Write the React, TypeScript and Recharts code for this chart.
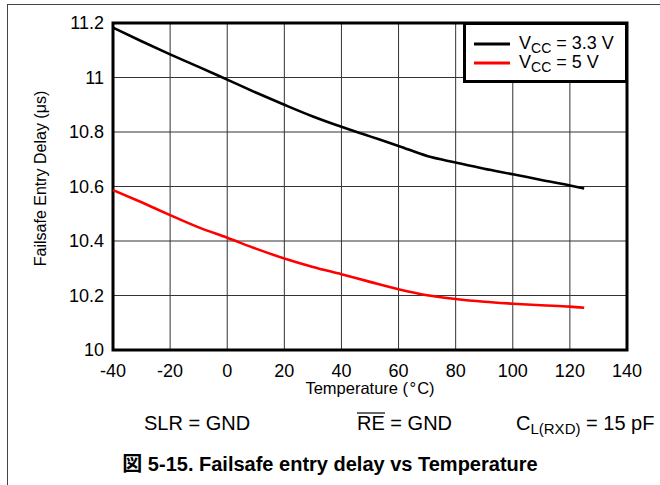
import React from 'react'
import { CartesianGrid, Legend, Line, LineChart, ReferenceArea, XAxis, YAxis } from 'recharts'

// ── Data ──

const temps = [-40, -30, -20, -10, 0, 10, 20, 30, 40, 50, 60, 70, 80, 90, 100, 110, 120, 125]
const vcc33 = [
  11.183, 11.133, 11.085, 11.039, 10.992, 10.945, 10.9, 10.857, 10.819, 10.784, 10.749, 10.712,
  10.688, 10.665, 10.645, 10.624, 10.604, 10.593,
]
const vcc5 = [
  10.587, 10.542, 10.495, 10.45, 10.412, 10.372, 10.336, 10.305, 10.278, 10.25, 10.223, 10.201,
  10.187, 10.177, 10.17, 10.164, 10.159, 10.155,
]
const xTicks = [-40, -20, 0, 20, 40, 60, 80, 100, 120, 140]
const yTicks = [10, 10.2, 10.4, 10.6, 10.8, 11, 11.2]
const seriesLabels = ['3.3 V', '5 V']
const seriesColors = ['#000000', '#ff0000']

const FONT = '"Liberation Sans", Arial, Helvetica, sans-serif'

const data = temps.map((t, i) => ({ t, v33: vcc33[i], v5: vcc5[i] }))

function LegendBox() {
  return (
    <div
      style={{
        width: 165,
        height: 61,
        boxSizing: 'border-box',
        border: '3px solid #000',
        background: '#fff',
      }}
    >
      <svg height={55} style={{ display: 'block' }} width={159}>
        {seriesLabels.map((label, i) => (
          <g key={label}>
            <line
              stroke={seriesColors[i]}
              strokeWidth={3}
              x1={8}
              x2={44}
              y1={19 + i * 19}
              y2={19 + i * 19}
            />
            <text fill="#000" fontFamily={FONT} fontSize={18} x={53} y={24 + i * 19}>
              V
              <tspan dy={4} fontSize={14}>
                CC
              </tspan>
              <tspan dy={-4}>{` = ${label}`}</tspan>
            </text>
          </g>
        ))}
      </svg>
    </div>
  )
}

function Overlay() {
  return (
    <svg
      height={485}
      style={{ position: 'absolute', left: 0, top: 0, pointerEvents: 'none' }}
      width={660}
    >
      {/* page frame */}
      <line stroke="#444" strokeWidth={1} x1={7} x2={660} y1={4.5} y2={4.5} />
      <line stroke="#444" strokeWidth={1} x1={7.5} x2={7.5} y1={4.5} y2={485} />

      {/* axis titles */}
      <text fill="#000" fontFamily={FONT} fontSize={16.5} textAnchor="middle" x={370} y={394}>
        Temperature (<tspan dx={1.5}>°</tspan>
        <tspan dx={1}>C)</tspan>
      </text>
      <text
        fill="#000"
        fontFamily={FONT}
        fontSize={16}
        textAnchor="middle"
        transform="translate(46,178.5) rotate(-90)"
      >
        Failsafe Entry Delay (μs)
      </text>

      {/* test conditions */}
      <g fill="#000" fontFamily={FONT} fontSize={20}>
        <text x={144} y={430}>SLR = GND</text>

        <text x={357} y={430}>RE = GND</text>
        <line stroke="#000" strokeWidth={1.2} x1={357} x2={385} y1={413} y2={413} />

        <text x={516} y={430}>
          C
          <tspan dy={4} fontSize={15}>
            L(RXD)
          </tspan>
          <tspan dy={-4}> = 15 pF</tspan>
        </text>
      </g>

      {/* caption */}
      <text
        fill="#000"
        fontFamily={'"Liberation Sans", "Noto Sans CJK JP", Arial, sans-serif'}
        fontSize={20}
        fontWeight="bold"
        textAnchor="middle"
        x={330}
        y={471}
      >
        図 5-15. Failsafe entry delay vs Temperature
      </text>
    </svg>
  )
}

export default function App() {
  return (
    <div
      style={{
        position: 'absolute',
        left: 0,
        top: 0,
        width: 660,
        height: 485,
        background: '#fff',
        fontFamily: FONT,
      }}
    >
      <LineChart
        data={data}
        height={485}
        margin={{ top: 23, right: 33, bottom: 105, left: 53 }}
        width={660}
      >
        <CartesianGrid stroke="#333" strokeWidth={1} />
        <XAxis
          allowDataOverflow
          axisLine={false}
          dataKey="t"
          domain={[-40, 140]}
          height={30}
          interval={0}
          tick={{ fill: '#000', fontSize: 18, fontFamily: FONT }}
          tickLine={false}
          tickMargin={14}
          tickSize={0}
          ticks={xTicks}
          type="number"
        />
        <YAxis
          allowDataOverflow
          axisLine={false}
          domain={[10, 11.2]}
          interval={0}
          tick={{ fill: '#000', fontSize: 18, fontFamily: FONT }}
          tickFormatter={(v: number) => String(Math.round(v * 10) / 10)}
          tickLine={false}
          tickMargin={9}
          tickSize={0}
          ticks={yTicks}
          type="number"
          width={60}
        />
        <Line
          dataKey="v33"
          dot={false}
          isAnimationActive={false}
          name={seriesLabels[0]}
          stroke={seriesColors[0]}
          strokeWidth={2.6}
          type="monotone"
        />
        <Line
          dataKey="v5"
          dot={false}
          isAnimationActive={false}
          name={seriesLabels[1]}
          stroke={seriesColors[1]}
          strokeWidth={2.6}
          type="monotone"
        />
        <ReferenceArea
          fill="none"
          fillOpacity={0}
          ifOverflow="visible"
          stroke="#000"
          strokeWidth={3}
          x1={-40}
          x2={140}
          y1={10}
          y2={11.2}
        />
        <Legend
          align="center"
          content={() => <LegendBox />}
          layout="horizontal"
          verticalAlign="middle"
          wrapperStyle={{ left: 463, top: 21.5, width: 165, height: 61 }}
        />
      </LineChart>
      <Overlay />
    </div>
  )
}
